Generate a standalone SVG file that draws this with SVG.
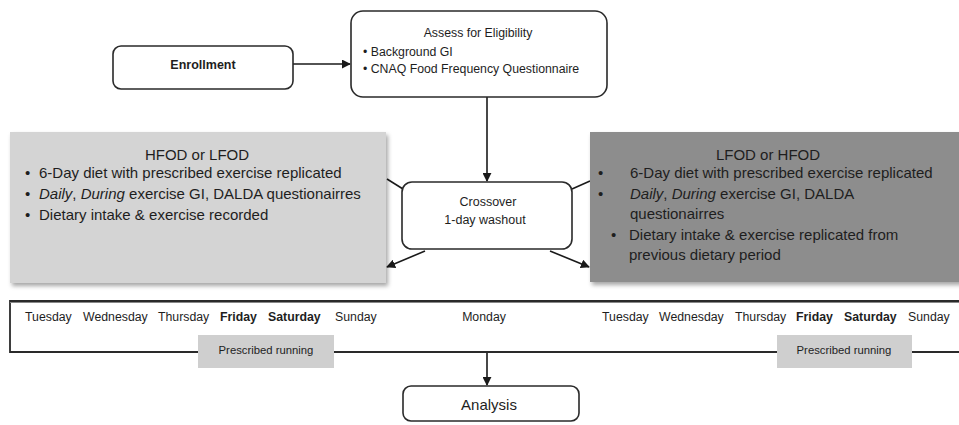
<svg xmlns="http://www.w3.org/2000/svg" width="959" height="425" viewBox="0 0 959 425">
<style>
text{font-family:"Liberation Sans",Arial,sans-serif;fill:#1e1e1e}
.node{fill:#fff;stroke:#2a2a2a;stroke-width:1.6}
.conn{stroke:#1a1a1a;stroke-width:1.6;fill:none}
.big{font-size:15px}
.day{font-size:12.3px}
.pr{font-size:11.3px}
</style>
<defs>
<marker id="arr" viewBox="0 0 10 10" refX="9" refY="5" markerWidth="9" markerHeight="9" markerUnits="userSpaceOnUse" orient="auto">
<path d="M0,0 L10,5 L0,10 z" fill="#1a1a1a"/>
</marker>
<filter id="sh" x="-5%" y="-5%" width="112%" height="115%">
<feDropShadow dx="2" dy="3" stdDeviation="2" flood-color="#000" flood-opacity="0.35"/>
</filter>
</defs>
<rect width="959" height="425" fill="#fff"/>

<g id="connectors">
<line class="conn" x1="293" y1="64" x2="350" y2="64" marker-end="url(#arr)"/>
<line class="conn" x1="487" y1="97" x2="487" y2="181" marker-end="url(#arr)"/>
<line class="conn" x1="387" y1="179" x2="403" y2="189"/>
<line class="conn" x1="572" y1="189" x2="590" y2="181"/>
<line class="conn" x1="425" y1="251" x2="387" y2="267" marker-end="url(#arr)"/>
<line class="conn" x1="550" y1="251" x2="589" y2="267" marker-end="url(#arr)"/>
<line class="conn" x1="487" y1="352" x2="487" y2="385" marker-end="url(#arr)"/>
</g>

<g id="enrollment">
<rect class="node" x="113" y="46" width="180" height="43" rx="8"/>
<text x="203" y="69" text-anchor="middle" font-size="12.5" font-weight="bold">Enrollment</text>
</g>

<g id="assess">
<rect class="node" x="351" y="11" width="256" height="86" rx="12"/>
<text x="478" y="37" text-anchor="middle" font-size="12.3">Assess for Eligibility</text>
<text x="363" y="56" font-size="12.3">•  Background GI</text>
<text x="363" y="73" font-size="12.3">•  CNAQ Food Frequency Questionnaire</text>
</g>

<g id="hfod">
<rect x="10" y="132" width="376" height="151" fill="#d4d4d4" filter="url(#sh)"/>
<text class="big" x="197" y="160" text-anchor="middle">HFOD or LFOD</text>
<text class="big" x="25" y="178">•</text>
<text class="big" x="39" y="178">6-Day diet with prescribed exercise replicated</text>
<text class="big" x="25" y="199">•</text>
<text class="big" x="39" y="199"><tspan font-style="italic">Daily</tspan>, <tspan font-style="italic">During</tspan> exercise GI, DALDA questionairres</text>
<text class="big" x="25" y="220">•</text>
<text class="big" x="39" y="220">Dietary intake &amp; exercise recorded</text>
</g>

<g id="lfod">
<rect x="590" y="132" width="375" height="150" fill="#8d8d8d" filter="url(#sh)"/>
<text class="big" x="768" y="160" text-anchor="middle">LFOD or HFOD</text>
<text class="big" x="598" y="178">•</text>
<text class="big" x="630" y="178">6-Day diet with prescribed exercise replicated</text>
<text class="big" x="598" y="199">•</text>
<text class="big" x="630" y="199"><tspan font-style="italic">Daily</tspan>, <tspan font-style="italic">During</tspan> exercise GI, DALDA</text>
<text class="big" x="630" y="219">questionairres</text>
<text class="big" x="611" y="240">•</text>
<text class="big" x="629" y="240">Dietary intake &amp; exercise replicated from</text>
<text class="big" x="629" y="260">previous dietary period</text>
</g>

<g id="crossover">
<rect class="node" x="402" y="182" width="170" height="67" rx="10"/>
<text x="488" y="206" text-anchor="middle" font-size="12.5">Crossover</text>
<text x="485" y="224" text-anchor="middle" font-size="12.5">1-day washout</text>
</g>

<g id="timeline">
<path d="M959,301 L10,301 L10,352 L959,352" fill="none" stroke="#2a2a2a" stroke-width="1.8"/>
<line x1="10" y1="302.5" x2="959" y2="302.5" stroke="#888" stroke-width="1"/>
<text class="day" x="25" y="321">Tuesday</text>
<text class="day" x="83" y="321">Wednesday</text>
<text class="day" x="158" y="321">Thursday</text>
<text class="day" x="220" y="321" font-weight="bold">Friday</text>
<text class="day" x="268" y="321" font-weight="bold">Saturday</text>
<text class="day" x="335" y="321">Sunday</text>
<text class="day" x="484" y="321" text-anchor="middle">Monday</text>
<text class="day" x="602" y="321">Tuesday</text>
<text class="day" x="659" y="321">Wednesday</text>
<text class="day" x="735" y="321">Thursday</text>
<text class="day" x="796" y="321" font-weight="bold">Friday</text>
<text class="day" x="844" y="321" font-weight="bold">Saturday</text>
<text class="day" x="908" y="321">Sunday</text>
</g>

<g id="running1">
<rect x="198" y="335" width="136" height="33" fill="#cfcfcf"/>
<text class="pr" x="266" y="354" text-anchor="middle">Prescribed running</text>
</g>

<g id="running2">
<rect x="777" y="335" width="135" height="33" fill="#cfcfcf"/>
<text class="pr" x="844" y="354" text-anchor="middle">Prescribed running</text>
</g>

<g id="analysis">
<rect class="node" x="403" y="386" width="176" height="35" rx="8"/>
<text x="489" y="410" text-anchor="middle" font-size="15">Analysis</text>
</g>
</svg>
